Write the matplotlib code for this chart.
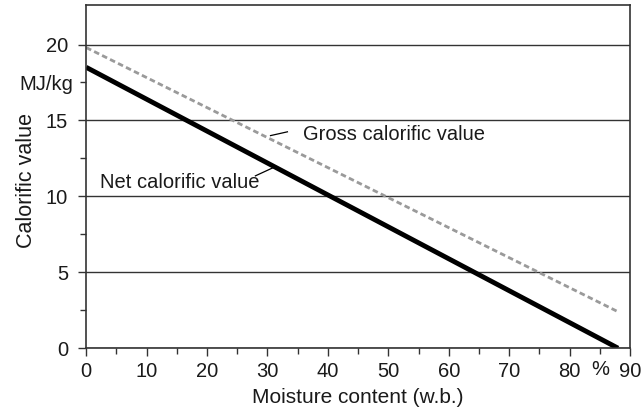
import matplotlib.pyplot as plt
from matplotlib.ticker import MultipleLocator, FixedLocator, FixedFormatter

plt.rcParams["font.family"] = ["Liberation Sans", "DejaVu Sans"]

# moisture content (% w.b.) and calorific values (MJ/kg)
moisture = [0, 88]
net_value = [18.5, 0.0]
gross_value = [19.8, 2.4]

x_ticks = [0, 10, 20, 30, 40, 50, 60, 70, 80, 90]
y_ticks = [0, 5, 10, 15, 20]

ink = "#333333"
txt = "#1a1a1a"

fig = plt.figure(figsize=(6.43, 4.19), dpi=100)
ax = fig.add_axes([0.134, 0.169, 0.846, 0.819])

ax.plot(moisture, gross_value, color="#9a9a9a", lw=2.0, ls=(0, (2, 1.2)))
ax.plot(moisture, net_value, color="black", lw=3.5, solid_capstyle="butt")

ax.set_xlim(0, 90)
ax.set_ylim(0, 22.6)

ax.set_xticks(x_ticks)
ax.xaxis.set_minor_locator(MultipleLocator(5))
ax.set_yticks(y_ticks)
ax.yaxis.set_minor_locator(FixedLocator([2.5, 7.5, 12.5, 17.5]))
ax.yaxis.set_minor_formatter(FixedFormatter(["", "", "", "MJ/kg"]))
ax.yaxis.grid(True, which="major", color=ink, lw=1.0)

ax.tick_params(axis="both", which="major", direction="out", length=6,
               width=1.0, color=ink, labelsize=14.5, labelcolor=txt, pad=4)
ax.tick_params(axis="both", which="minor", direction="out", length=4,
               width=1.0, color=ink, labelsize=14.5, labelcolor=txt, pad=5)
ax.tick_params(axis="y", which="major", pad=7)
for s in ax.spines.values():
    s.set_color(ink)
    s.set_linewidth(1.2)

ax.text(85, -0.75, "%", ha="center", va="top", fontsize=14.5, color=txt)

ax.set_xlabel("Moisture content (w.b.)", fontsize=15, color=txt, labelpad=5)
ax.set_ylabel("Calorific value", fontsize=15.5, color=txt)
ax.yaxis.set_label_coords(-0.09, 0.49)

# inline labels with short leader lines
ax.plot([30.5, 33.3], [14.0, 14.25], color="black", lw=0.9)
ax.text(35.9, 14.1, "Gross calorific value", fontsize=14.5, va="center", color=txt)
ax.plot([28.0, 31.0], [11.35, 11.9], color="black", lw=0.9)
ax.text(2.3, 10.9, "Net calorific value", fontsize=14.5, va="center", color=txt)

fig.savefig("out.png", dpi=100)
